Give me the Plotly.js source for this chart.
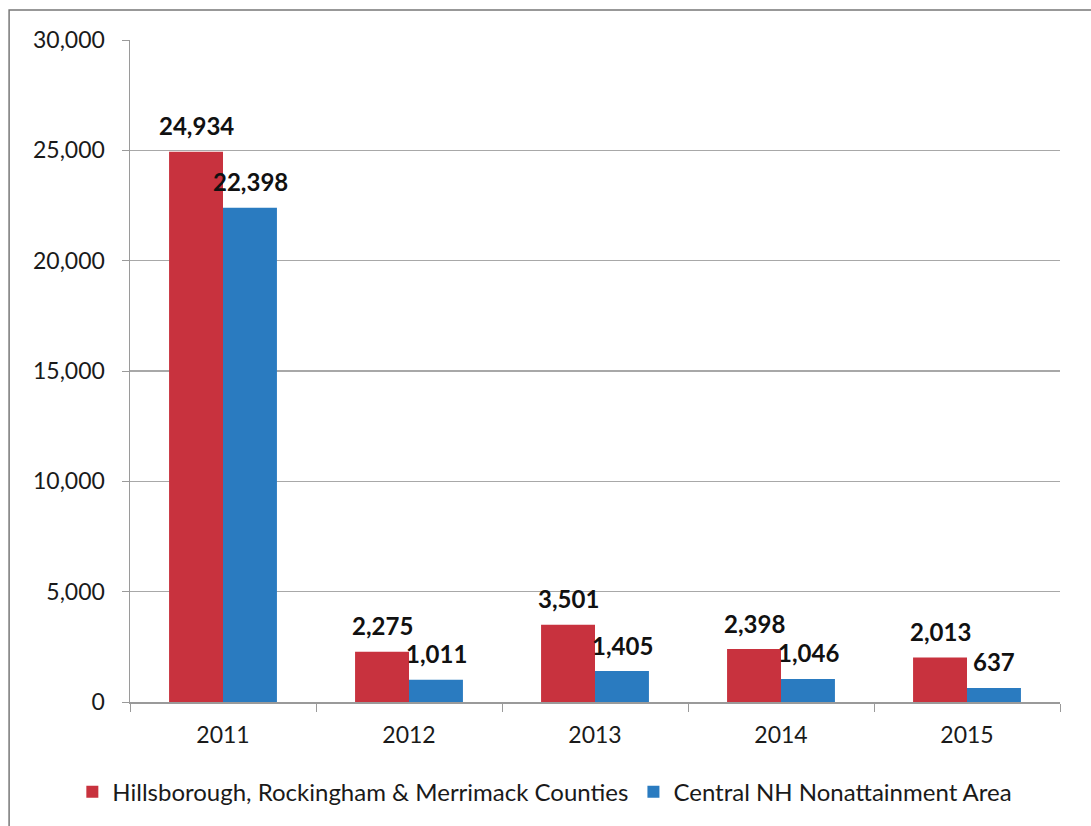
<!DOCTYPE html>
<html>
<head>
<meta charset="utf-8">
<script src="https://cdn.plot.ly/plotly-3.0.1.min.js"></script>
<style>html,body{margin:0;padding:0;background:#fff;}#chart{width:1091px;height:826px;}</style>
</head>
<body>
<div id="chart"></div>
<script>
const years = ['2011', '2012', '2013', '2014', '2015'];
const seriesNames = ['Hillsborough, Rockingham & Merrimack Counties', 'Central NH Nonattainment Area'];
const hillsborough = [24934, 2275, 3501, 2398, 2013];
const centralNH = [22398, 1011, 1405, 1046, 637];
const yTicks = [0, 5000, 10000, 15000, 20000, 25000, 30000];

const RED = '#c8323e';
const BLUE = '#2a7bc0';
const FONT = 'Lato, "Open Sans", sans-serif';

const traces = [
  {type: 'bar', name: seriesNames[0], x: years, y: hillsborough, marker: {color: RED}, hoverinfo: 'none'},
  {type: 'bar', name: seriesNames[1], x: years, y: centralNH, marker: {color: BLUE}, hoverinfo: 'none'}
];

const fmt = v => v.toLocaleString('en-US');
const annotations = [];
[[hillsborough, -27], [centralNH, 27]].forEach(([vals, dx]) => {
  vals.forEach((v, i) => {
    annotations.push({
      x: i, y: v, xref: 'x', yref: 'y', text: '<b>' + fmt(v) + '</b>',
      showarrow: false, xshift: dx, yshift: 26, xanchor: 'center', yanchor: 'middle',
      font: {family: FONT, size: 24, color: '#111'}
    });
  });
});

const layout = {
  width: 1091, height: 826,
  margin: {l: 130, r: 31, t: 40, b: 124},
  paper_bgcolor: '#fff', plot_bgcolor: '#fff',
  barmode: 'group', bargap: 0.42, bargroupgap: 0,
  font: {family: FONT, color: '#1a1a1a'},
  showlegend: true,
  legend: {orientation: 'h', x: -0.062, xanchor: 'left', y: -0.136, yanchor: 'middle',
           font: {family: FONT, size: 24, color: '#1a1a1a'}, itemwidth: 30, traceorder: 'normal'},
  xaxis: {type: 'category', categoryorder: 'array', categoryarray: years,
          range: [-0.5, years.length - 0.5],
          showline: true, linecolor: '#9a9a9a', linewidth: 1.5,
          ticks: 'outside', tickson: 'boundaries', ticklen: 8, tickcolor: '#9a9a9a',
          tickfont: {family: FONT, size: 23, color: '#1a1a1a'}, ticklabelstandoff: 12,
          showgrid: false, zeroline: false, fixedrange: true},
  yaxis: {range: [0, 30000], tickvals: yTicks, ticktext: yTicks.map(fmt),
          showline: true, linecolor: '#9a9a9a', linewidth: 1.5,
          ticks: 'outside', ticklen: 7, tickcolor: '#9a9a9a',
          showgrid: true, gridcolor: '#a8a8a8', gridwidth: 1.2, zeroline: false,
          tickfont: {family: FONT, size: 23, color: '#1a1a1a'}, ticklabelstandoff: 12, fixedrange: true},
  annotations: annotations,
  shapes: [{type: 'rect', xref: 'paper', yref: 'paper', x0: -0.130, x1: 1.04, y0: -0.2, y1: 1.0453,
            line: {color: '#777', width: 1.5}, fillcolor: 'rgba(0,0,0,0)'}]
};

Plotly.newPlot('chart', traces, layout, {displayModeBar: false, staticPlot: true});
</script>
</body>
</html>
